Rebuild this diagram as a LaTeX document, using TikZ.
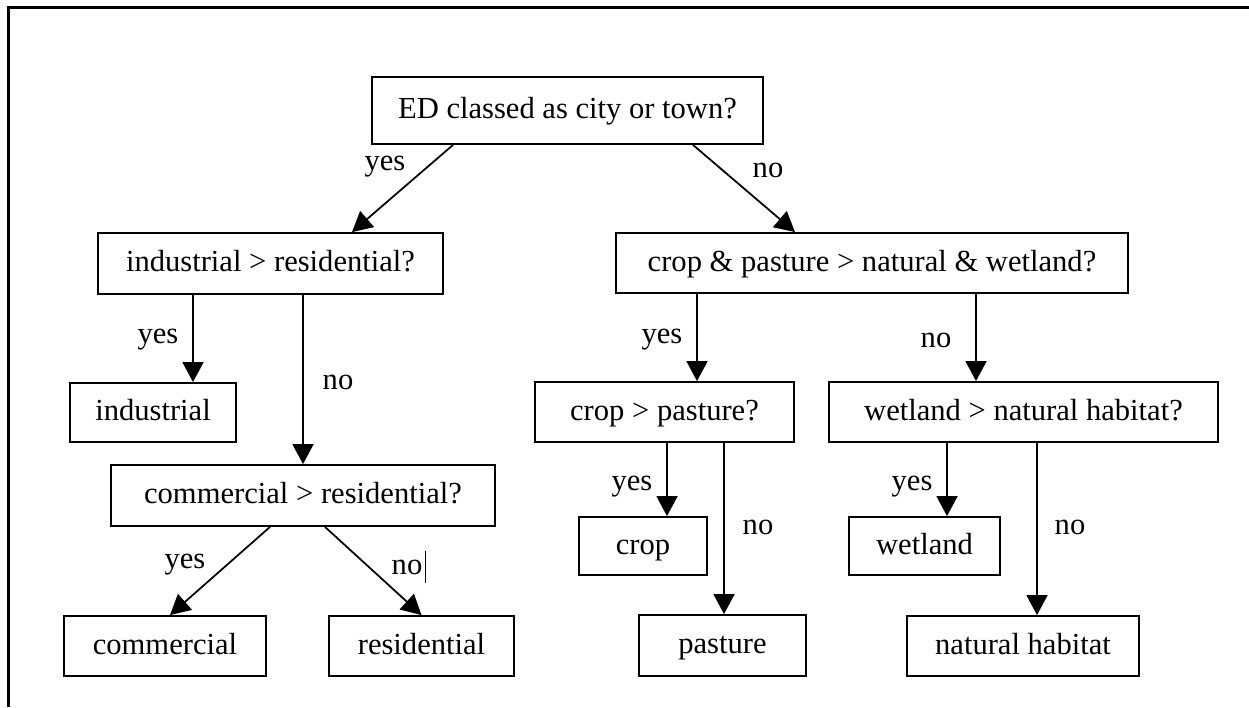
\documentclass[tikz,border=0pt]{standalone}
\usepackage{fontspec}
\setmainfont{Liberation Serif}
\usepackage{tikz}
\usetikzlibrary{arrows.meta, positioning, calc}

\tikzset{
  box/.style={draw=black, line width=1.05pt, inner sep=0pt, minimum height=1.2cm, text height=13.6pt, text depth=4pt, align=center},
  arr/.style={-{Triangle[length=0.4cm, width=0.42cm]}, line width=1pt},
  lbl/.style={inner sep=0pt}
}

\begin{document}
\begin{tikzpicture}[font=\fontsize{17.4pt}{20pt}\selectfont]
      \useasboundingbox (0, 0) rectangle (24.98, -14.14);
      \draw[line width=0.06cm] (0.17, -14.14) -- (0.17, -0.15) -- (24.98, -0.15);

      % question boxes
      \node[box, minimum width=7.82cm, minimum height=1.34cm] (ed) at (11.35, -2.21) {ED classed as city or town?};
      \node[box, minimum width=6.9cm, minimum height=1.22cm] (indres) at (5.41, -5.27) {industrial > residential?};
      \node[box, minimum width=10.24cm] (croppas) at (17.44, -5.26) {crop \& pasture > natural \& wetland?};
      \node[box, minimum width=7.68cm, minimum height=1.22cm] (comres) at (6.06, -9.91) {commercial > residential?};
      \node[box, minimum width=5.18cm] (croppast) at (13.29, -8.24) {crop > pasture?};
      \node[box, minimum width=7.78cm] (wetnat) at (20.47, -8.24) {wetland > natural habitat?};

      % classes
      \node[box, minimum width=3.32cm, minimum height=1.18cm] (industrial) at (3.06, -8.25) {industrial};
      \node[box, minimum width=4.04cm] (commercial) at (3.30, -12.92) {commercial};
      \node[box, minimum width=3.7cm] (residential) at (8.43, -12.92) {residential};
      \node[box, minimum width=2.56cm, minimum height=1.16cm] (crop) at (12.86, -10.92) {crop};
      \node[box, minimum width=3.34cm, minimum height=1.22cm] (pasture) at (14.45, -12.91) {pasture};
      \node[box, minimum width=3.02cm, minimum height=1.16cm] (wetland) at (18.49, -10.92) {wetland};
      \node[box, minimum width=4.64cm] (nathab) at (20.46, -12.92) {natural habitat};

      \draw[arr] ([xshift=-2.29cm]ed.south) -- ([xshift=1.63cm]indres.north);
      \draw[arr] ([xshift=2.51cm]ed.south) -- ([xshift=-1.54cm]croppas.north);

      \draw[arr] ([xshift=0.8cm]industrial.north |- indres.south) -- ([xshift=0.8cm]industrial.north);
      \draw[arr] (comres.north |- indres.south) -- (comres.north);
      \draw[arr] ([xshift=-0.66cm]comres.south) -- ([xshift=0.1cm]commercial.north);
      \draw[arr] ([xshift=0.44cm]comres.south) -- (residential.north);

      \draw[arr] ([xshift=0.65cm]croppast.north |- croppas.south) -- ([xshift=0.65cm]croppast.north);
      \draw[arr] ([xshift=-0.95cm]wetnat.north |- croppas.south) -- ([xshift=-0.95cm]wetnat.north);
      \draw[arr] ([xshift=0.48cm]crop.north |- croppast.south) -- ([xshift=0.48cm]crop.north);
      \draw[arr] ([xshift=0.03cm]pasture.north |- croppast.south) -- ([xshift=0.03cm]pasture.north);
      \draw[arr] ([xshift=0.45cm]wetland.north |- wetnat.south) -- ([xshift=0.45cm]wetland.north);
      \draw[arr] ([xshift=0.28cm]nathab.north |- wetnat.south) -- ([xshift=0.28cm]nathab.north);

      % yes / no labels
      \node[lbl] (y1) at (7.7, -3.34) {yes};
      \node[lbl] (n1) at (15.36, -3.4) {no};
      \node[lbl] (y2) at (3.16, -6.8) {yes};
      \node[lbl] (n2) at (6.76, -7.64) {no};
      \node[lbl] (y3) at (3.7, -11.3) {yes};
      \node[lbl] (n3) at (8.14, -11.34) {no};
      \draw[line width=0.7pt] ([xshift=0.06cm]n3.east |- 0, -11.02) -- ([xshift=0.06cm]n3.east |- 0, -11.66);
      \node[lbl] (y4) at (13.24, -6.8) {yes};
      \node[lbl] (n4) at (18.72, -6.8) {no};
      \node[lbl] (y5) at (12.64, -9.74) {yes};
      \node[lbl] (n5) at (15.16, -10.54) {no};
      \node[lbl] (y6) at (18.24, -9.74) {yes};
      \node[lbl] (n6) at (21.4, -10.54) {no};
    \end{tikzpicture}
\end{document}
